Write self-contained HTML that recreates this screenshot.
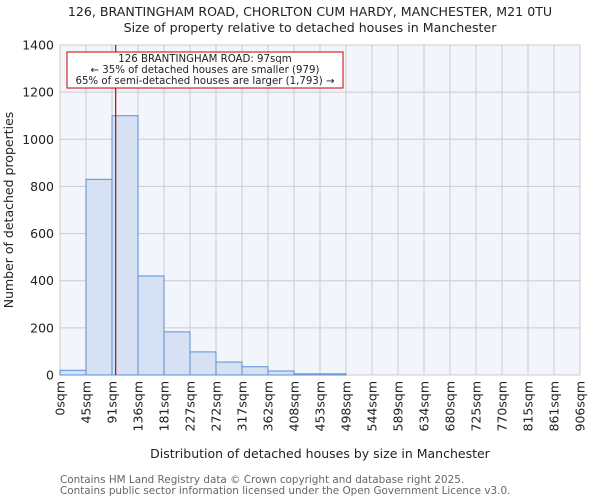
<!DOCTYPE html>
<html><head><meta charset="utf-8"><style>
body{margin:0;background:#fff;}
svg{display:block;font-family:"DejaVu Sans","Liberation Sans",sans-serif;}
</style></head><body>
<svg id="chart" width="600" height="500" xmlns="http://www.w3.org/2000/svg">
<text x="310" y="16" text-anchor="middle" font-size="12.6" fill="#222">126, BRANTINGHAM ROAD, CHORLTON CUM HARDY, MANCHESTER, M21 0TU</text>
<text x="310" y="32" text-anchor="middle" font-size="12.6" fill="#222">Size of property relative to detached houses in Manchester</text>
<rect x="60" y="45" width="520" height="330" fill="#f2f5fc"/>
<g id="grid"></g>
<g id="bars"></g>
<g id="yticks"></g>
<g id="xticks"></g>
<line id="marker" stroke="#cc0000" stroke-width="1.2"/>
<g>
<rect x="67" y="52" width="276" height="36" fill="#fff" stroke="#cc0000" stroke-width="1"/>
<text x="205" y="62" text-anchor="middle" font-size="10.2" fill="#222">126 BRANTINGHAM ROAD: 97sqm</text>
<text x="205" y="73" text-anchor="middle" font-size="10.2" fill="#222">← 35% of detached houses are smaller (979)</text>
<text x="205" y="84" text-anchor="middle" font-size="10.2" fill="#222">65% of semi-detached houses are larger (1,793) →</text>
</g>
<text transform="translate(13,210) rotate(-90)" text-anchor="middle" font-size="12.5" fill="#222">Number of detached properties</text>
<text x="320" y="458" text-anchor="middle" font-size="12.5" fill="#222">Distribution of detached houses by size in Manchester</text>
<text x="60" y="483" font-size="10.4" fill="#666">Contains HM Land Registry data © Crown copyright and database right 2025.</text>
<text x="60" y="494" font-size="10.4" fill="#666">Contains public sector information licensed under the Open Government Licence v3.0.</text>
</svg>
<script>
const binLabels=["0sqm","45sqm","91sqm","136sqm","181sqm","227sqm","272sqm","317sqm","362sqm","408sqm","453sqm","498sqm","544sqm","589sqm","634sqm","680sqm","725sqm","770sqm","815sqm","861sqm","906sqm"];
const binEdges=[0,45,91,136,181,227,272,317,362,408,453,498,544,589,634,680,725,770,815,861,906];
const counts=[20,830,1100,420,183,98,55,35,17,5,5,0,0,0,0,0,0,0,0,0];
const yTicks=[0,200,400,600,800,1000,1200,1400];
const markerValue=97;
const NS="http://www.w3.org/2000/svg";
const X0=60,X1=580,Y0=375,Y1=45;
const xs=v=>X0+(v-binEdges[0])/(binEdges[binEdges.length-1]-binEdges[0])*(X1-X0);
const xi=i=>X0+i*(X1-X0)/counts.length;
const ys=v=>Y0-v/1400*(Y0-Y1);
function mk(tag,attrs,parent){const e=document.createElementNS(NS,tag);for(const k in attrs)e.setAttribute(k,attrs[k]);parent.appendChild(e);return e;}
const grid=document.getElementById('grid'),bars=document.getElementById('bars'),yt=document.getElementById('yticks'),xt=document.getElementById('xticks');
yTicks.forEach(t=>{
 const l=mk('line',{x1:X0,x2:X1,y1:ys(t),y2:ys(t),stroke:'#cccccc','stroke-width':1},grid);
 
 
 const tx=mk('text',{x:X0-6,y:ys(t)+4.5,'text-anchor':'end','font-size':12.5,fill:'#222'},yt);
 tx.textContent=t;
 
 
});
binLabels.forEach((lab,i)=>{
 const x=xi(i);
 const l=mk('line',{x1:x,x2:x,y1:Y1,y2:Y0,stroke:'#cccccc','stroke-width':1},grid);
 
 
 const tx=mk('text',{transform:`translate(${x+4.5},${Y0+6}) rotate(-90)`,'text-anchor':'end','font-size':12.5,fill:'#222'},xt);
 tx.textContent=lab;
 
 
});
counts.forEach((c,i)=>{
 if(c<=0)return;
 const r=mk('rect',{x:xi(i),y:ys(c),width:xi(i+1)-xi(i),height:Y0-ys(c),fill:'#d6e2f3',stroke:'#5b8fd6','stroke-width':1},bars);
 
 
});
const m=document.getElementById('marker');
m.setAttribute('x1',xs(markerValue));m.setAttribute('x2',xs(markerValue));
m.setAttribute('y1',Y1);m.setAttribute('y2',Y0);
</script>
</body></html>
